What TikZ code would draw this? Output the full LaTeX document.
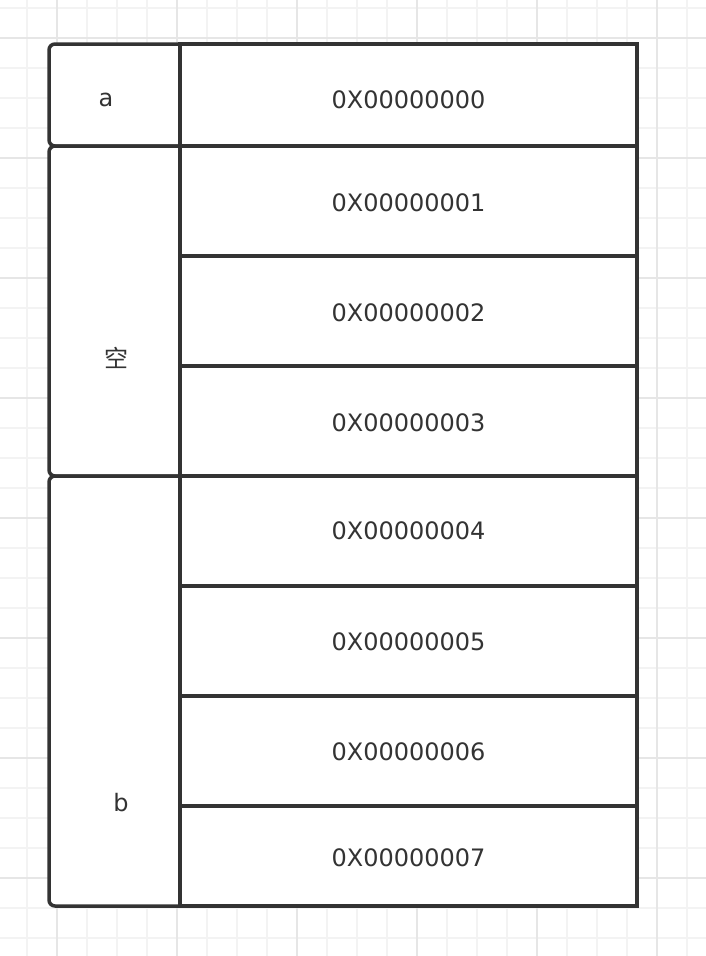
\documentclass[tikz,border=0pt]{standalone}
\usepackage{fontspec}
\setmainfont{DejaVu Sans}
\newfontfamily\cjk{Noto Sans CJK SC}
\definecolor{linegray}{HTML}{333333}
\definecolor{gridminor}{HTML}{F3F3F3}
\definecolor{gridmajor}{HTML}{E6E6E6}

\begin{document}
\begin{tikzpicture}[x=1pt,y=-1pt]
        \tikzstyle{every node}+=[inner sep=0pt, outer sep=0pt]
        \tikzstyle{addr}=[draw=linegray, line width=3.5pt, fill=white, minimum width=457pt]
        \tikzstyle{var}=[draw=linegray, line width=3.5pt, fill=white, rounded corners=6pt, minimum width=146pt]
        \tikzstyle{txt}=[text=linegray, font=\fontsize{24}{28}\selectfont]
        \useasboundingbox [fill=white] (0,0) rectangle (706,956);
        % background grid
        \foreach \x in {27,57,...,687}
            \draw [gridminor, line width=1.5pt] (\x,0) -- (\x,956);
        \foreach \y in {8,38,...,938}
            \draw [gridminor, line width=1.5pt] (0,\y) -- (706,\y);
        \foreach \x in {57,177,...,657}
            \draw [gridmajor, line width=1.5pt] (\x,0) -- (\x,956);
        \foreach \y in {38,158,...,878}
            \draw [gridmajor, line width=1.5pt] (0,\y) -- (706,\y);
        % variables
        \node [var, minimum height=102pt] (cella) at (122,95) {};
        \node [var, minimum height=330pt] (cellgap) at (122,311) {};
        \node [var, minimum height=430pt] (cellb) at (122,691) {};
        \node [txt] (labela) at (106,100) {a};
        \node [txt] (labelgap) at (116,358) {\cjk 空};
        \node [txt] (labelb) at (121,803) {b};
        % addresses
        \foreach \n/\y/\h/\ty in {0/95/102pt/100, 1/201/110pt/203, 2/311/110pt/313, 3/421/110pt/423,
                                  4/531/110pt/531, 5/641/110pt/642, 6/751/110pt/752, 7/856/100pt/858}
        {
            \node [addr, minimum height=\h] (addr\n) at (408.5,\y) {};
            \node [txt] (addrtxt\n) at (408.5,\ty) {0X0000000\n};
        }
\end{tikzpicture}
\end{document}
